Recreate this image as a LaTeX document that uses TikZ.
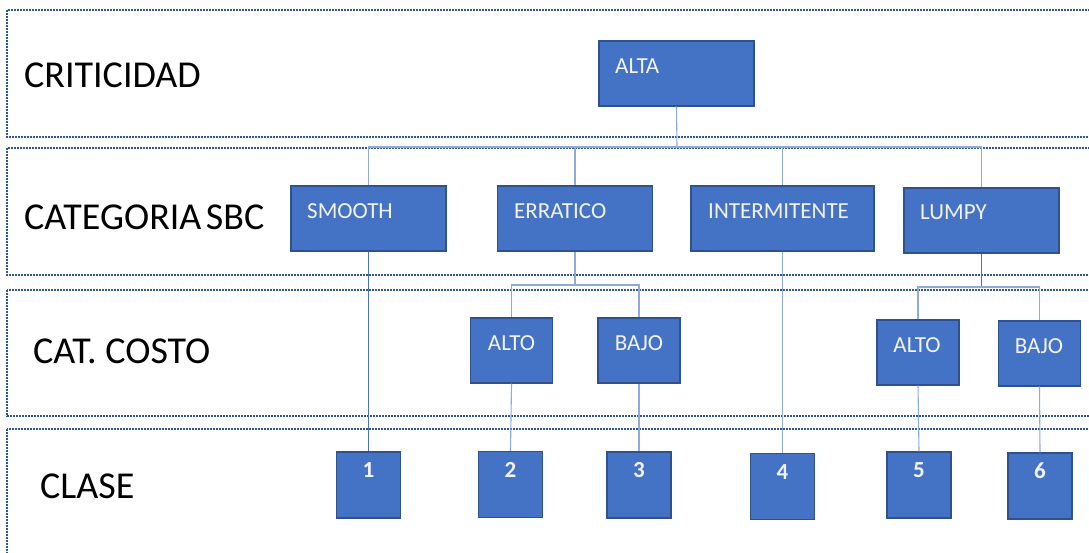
\documentclass[tikz,border=0pt]{standalone}
\usepackage{fontspec}
\setmainfont{Carlito}
\definecolor{bandline}{HTML}{2F5597}
\definecolor{boxfill}{HTML}{4472C4}
\definecolor{boxedge}{HTML}{2F528F}
\definecolor{linklight}{HTML}{8FAADC}
\definecolor{linkdark}{HTML}{4A72C0}
\definecolor{boxtext}{HTML}{F2F2F2}
\tikzset{
  band/.style={draw=bandline, line width=1.8pt, dash pattern=on 1.8pt off 1.2pt},
  bandlabel/.style={anchor=base west, inner sep=0pt, text=black,
    font=\fontsize{38}{45}\selectfont},
  blockbox/.style={draw=boxedge, fill=boxfill, line width=1.3pt, inner sep=0pt},
  widebox/.style={blockbox, minimum width=155pt, minimum height=65pt},
  smallbox/.style={blockbox, minimum width=82pt, minimum height=65pt},
  classbox/.style={blockbox, minimum width=64pt, minimum height=66pt},
  boxlabel/.style={inner sep=0pt, text=boxtext, font=\fontsize{23}{28}\selectfont},
  classlabel/.style={anchor=base, inner sep=0pt, text=boxtext,
    font=\fontsize{23}{28}\selectfont\bfseries},
  link/.style={draw=linklight, line width=1.1pt},
  darklink/.style={draw=linkdark, line width=1pt},
}
\begin{document}
\begin{tikzpicture}[x=1pt, y=-1pt]
\useasboundingbox (0,0) rectangle (1089,552);
\clip (0,0) rectangle (1089,552);

% level bands
\draw[band] (7,10) rectangle (1110,137);
\draw[band] (7,148) rectangle (1110,275);
\draw[band] (7,290) rectangle (1110,416);
\draw[band] (7,429) rectangle (1110,600);

\node[bandlabel] (lcrit) at (24,87) {CRITICIDAD};
\node[bandlabel] (lsbc) at (24,229) {CATEGORIA\hspace{0.12em}SBC};
\node[bandlabel] (lcost) at (33,363) {CAT. COSTO};
\node[bandlabel] (lclase) at (40,498) {CLASE};

% criticality
\node[widebox] (alta) at (676.5,73.5) {};
\node[boxlabel, anchor=base west] (talta) at (615,73) {ALTA};

% SBC categories
\node[widebox] (smooth) at (368.5,218.5) {};
\node[widebox] (erratico) at (575,218.5) {};
\node[widebox, minimum width=183pt] (intermitente) at (782.5,218.5) {};
\node[widebox] (lumpy) at (981.5,220.5) {};
\node[boxlabel, anchor=base west] (tsmooth) at (307,218) {SMOOTH};
\node[boxlabel, anchor=base west] (terratico) at (514,218) {ERRATICO};
\node[boxlabel, anchor=base west] (tinter) at (708,218) {INTERMITENTE};
\node[boxlabel, anchor=base west] (tlumpy) at (920,219) {LUMPY};

% cost categories
\node[smallbox] (alto1) at (511.5,350.5) {};
\node[smallbox] (bajo1) at (639,350.5) {};
\node[smallbox] (alto2) at (918,352.5) {};
\node[smallbox] (bajo2) at (1039.5,353.5) {};
\node[boxlabel, anchor=base] (talto1) at (511.5,350) {ALTO};
\node[boxlabel, anchor=base] (tbajo1) at (639,350) {BAJO};
\node[boxlabel, anchor=base] (talto2) at (917,352) {ALTO};
\node[boxlabel, anchor=base] (tbajo2) at (1039,353) {BAJO};

% classes
\node[classbox] (c1) at (368.5,485) {};
\node[classbox] (c2) at (510.5,484.5) {};
\node[classbox] (c3) at (639,485) {};
\node[classbox] (c4) at (782.5,486.5) {};
\node[classbox] (c5) at (919,485) {};
\node[classbox] (c6) at (1040,486) {};
\node[classlabel] (t1) at (368.5,477) {1};
\node[classlabel] (t2) at (510.5,477) {2};
\node[classlabel] (t3) at (639,477) {3};
\node[classlabel] (t4) at (782.5,479) {4};
\node[classlabel] (t5) at (919,477) {5};
\node[classlabel] (t6) at (1040,478) {6};

% connectors
\coordinate (busA) at (677,147);
\coordinate (busE) at (575,285);
\coordinate (busL) at (981.5,287);

\draw[link] (alta.south) -- (busA);
\draw[link] (busA) -| (smooth.north);
\draw[link] (busA) -| (erratico.north);
\draw[link] (busA) -| (intermitente.north);
\draw[link] (busA) -| (lumpy.north);

\draw[darklink] (smooth.south) -- (c1.north);
\draw[link] (erratico.south) -- (busE);
\draw[link] (busE) -| (alto1.north);
\draw[link] (busE) -| (bajo1.north);
\draw[link] (intermitente.south) -- (c4.north);
\draw[darklink] (lumpy.south) -- (busL);
\draw[link] (busL) -| (alto2.north);
\draw[link] (busL) -| (bajo2.north);

\draw[link] (alto1.south) -- (c2.north);
\draw[link] (bajo1.south) -- (c3.north);
\draw[link] (alto2.south) -- (c5.north);
\draw[link] (bajo2.south) -- (c6.north);
\end{tikzpicture}
\end{document}
